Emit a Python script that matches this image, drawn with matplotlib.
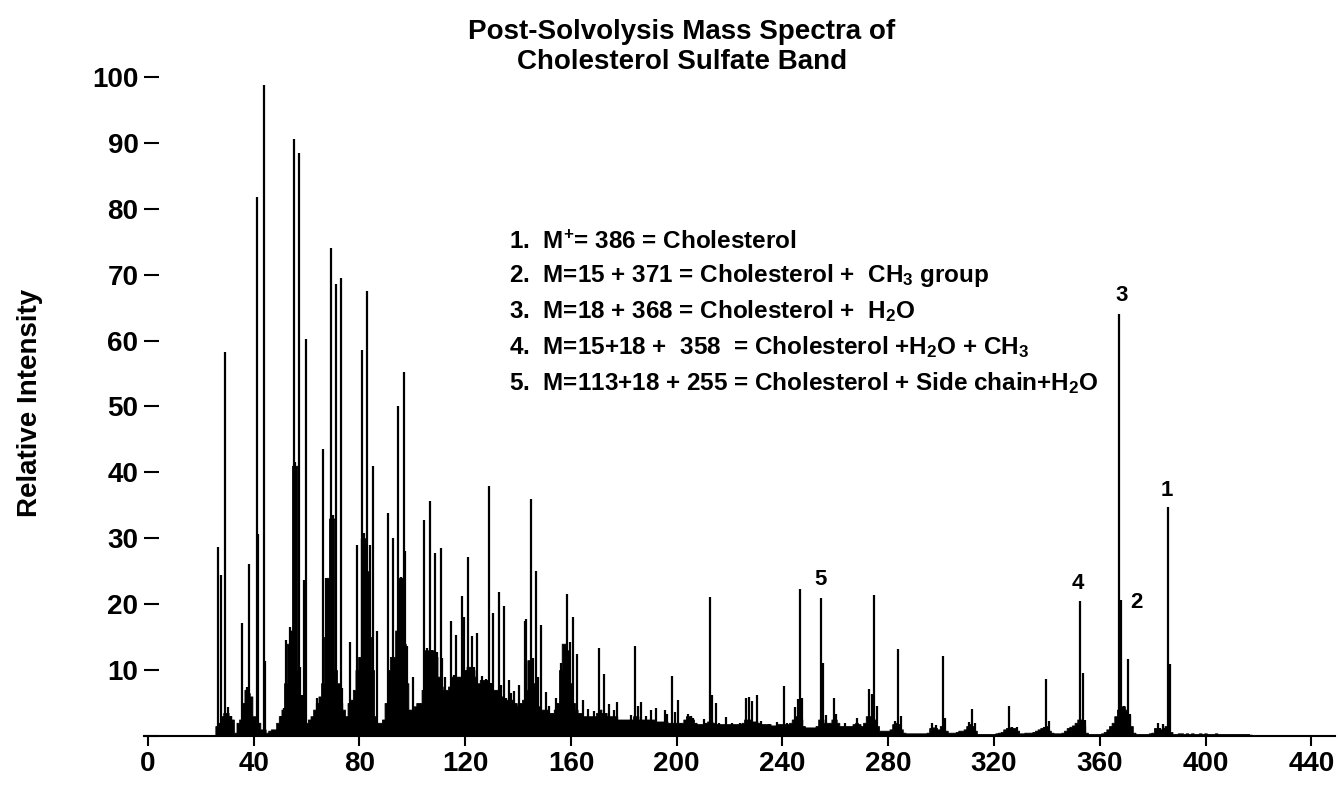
import numpy as np
import matplotlib
matplotlib.use("Agg")
import matplotlib.pyplot as plt

plt.rcParams["font.family"] = ["Liberation Sans", "DejaVu Sans"]
plt.rcParams["font.weight"] = "bold"
plt.rcParams["mathtext.fontset"] = "custom"
plt.rcParams["mathtext.rm"] = "Liberation Sans:bold"
plt.rcParams["mathtext.it"] = "Liberation Sans:bold"
plt.rcParams["mathtext.bf"] = "Liberation Sans:bold"

# background (unresolved) signal, one value per m/z from 25 to 420
env_mz = np.arange(25, 421)
env_int = [
    0, 1.5, 2, 3, 3.5, 3.5, 3, 2.5, 0.5, 2,
    2.5, 5, 7, 6.5, 6, 3, 3, 2, 1, 1,
    0.5, 0.8, 1, 1, 2, 3, 4, 8, 14, 16,
    41, 41, 10, 6, 5, 2, 2.5, 3, 4, 5,
    6, 8, 15, 24, 33, 33, 10, 8, 5, 4,
    3, 5, 5.5, 7, 10, 12, 30, 30, 25, 15,
    10, 3, 2, 2, 2.5, 5, 10, 12, 12, 16,
    24, 24, 14, 8, 4, 4, 4.5, 5, 5, 7,
    13, 13, 13, 13, 12, 9, 7.5, 7, 7, 7.5,
    9, 9, 9, 9, 9, 10, 10.5, 10.5, 10, 9,
    8, 8.5, 8.5, 8.5, 8, 7.5, 7, 7, 6.5, 6,
    5.5, 5.5, 5, 5.5, 5, 4.5, 5, 5.5, 7, 11.5,
    11.5, 8, 6, 4.5, 4, 4, 4, 3.5, 3.5, 4,
    5, 10, 14, 14, 13, 8, 5, 4, 3.5, 3.5,
    3, 3, 3, 3, 3, 3.5, 4, 3.5, 3.5, 3,
    3, 3, 3, 2.5, 2.5, 2.5, 2.5, 2.5, 2.5, 3,
    3, 2.5, 2.5, 2.5, 2.5, 2.5, 2.5, 2.2, 2.2, 2.2,
    2.2, 2.2, 2, 2, 2, 2, 2, 2, 2.5, 3,
    3, 2.5, 2, 1.8, 1.8, 1.8, 2, 2.2, 2.2, 2,
    1.8, 1.8, 1.8, 1.8, 1.8, 1.8, 1.8, 1.8, 1.8, 1.8,
    2, 2.5, 2.5, 2.5, 2.2, 2.2, 2, 1.8, 1.8, 1.8,
    1.8, 1.6, 1.6, 1.8, 1.8, 1.8, 1.8, 1.8, 2, 2.5,
    3, 3, 2.5, 1.5, 1.3, 1.3, 1.3, 1.3, 1.5, 2.5,
    2.5, 2, 2, 2, 2.5, 2.5, 2, 1.5, 1.5, 1.5,
    1.5, 1.5, 1.8, 2, 1.8, 1.5, 2, 3, 3, 3,
    2.5, 1.5, 0.8, 0.8, 0.8, 0.8, 1, 1.8, 2, 1.8,
    1, 0.5, 0.4, 0.4, 0.4, 0.4, 0.4, 0.4, 0.4, 0.4,
    0.5, 1.2, 1.3, 1.2, 1, 1.5, 1.5, 0.8, 0.5, 0.5,
    0.5, 0.6, 0.8, 0.8, 1, 1.5, 1.8, 1.5, 0.8, 0.3,
    0.3, 0.3, 0.3, 0.3, 0.3, 0.3, 0.4, 0.5, 0.6, 1,
    1.2, 1.3, 1.2, 1.2, 0.8, 0.4, 0.4, 0.5, 0.5, 0.5,
    0.6, 0.8, 1, 1.2, 1.3, 1.5, 0.8, 0.5, 0.4, 0.4,
    0.4, 0.5, 0.8, 1.2, 1.4, 1.6, 2, 2.5, 2.5, 1.5,
    0.5, 0.3, 0.3, 0.3, 0.3, 0.3, 0.4, 0.6, 1, 1.5,
    2, 3, 4, 4.5, 4.5, 4, 3, 1.5, 0.5, 0.3,
    0.3, 0.3, 0.3, 0.3, 0.4, 0.5, 1.2, 1, 1, 1.2,
    1.5, 1.5, 0.6, 0.3, 0.3, 0.4, 0.4, 0.3, 0.4, 0.3,
    0.4, 0.3, 0.3, 0.4, 0.3, 0.4, 0.3, 0.3, 0.3, 0.4,
    0.3, 0.3, 0.3, 0.3, 0.3, 0.3, 0.3, 0.3, 0.3, 0.3,
    0.3, 0.3, 0.2, 0.1, 0, 0,
]

# resolved peaks (m/z, relative intensity)
peak_mz = [
    26.6, 27.6, 29.1, 30.3, 31.4, 35.4, 37.5, 38.3, 41.1, 41.8, 43.9, 44.3,
    50.5, 51.5, 52.4, 53.6, 55.2, 55.8, 57.3, 57.6, 58.3, 59.2, 59.6, 63.9,
    66.4, 67.3, 69.1, 69.9, 71.2, 72.9, 73.4, 76.3, 77.5, 78.9,
    81.0, 81.7, 83.0, 84.1, 85.1, 86.5, 90.8, 92.0, 92.8, 94.7, 95.6, 96.7,
    97.1, 98.0, 99.0, 100.2, 104.5, 105.6, 106.5, 107.4, 108.4, 109.4, 110.7,
    111.3, 112.4, 113.5, 114.5, 115.6, 116.6, 117.6, 118.7, 119.4, 120.9,
    121.7, 122.6, 123.5, 124.5, 125.4, 126.4, 127.9, 129.0, 129.8, 130.7,
    131.7, 132.7, 133.6, 134.7, 135.5, 136.4, 137.4, 138.5, 140.4, 142.5,
    143.1, 144.9, 145.5, 146.8, 147.4, 148.5, 149.3, 150.4, 151.8, 154.4,
    156.1, 157.1, 158.6, 159.5, 160.7, 162.4, 164.4, 166.3, 168.6, 170.7,
    172.6, 174.5, 176.4, 177.6, 180.2, 182.7, 184.3, 185.4, 186.5, 188.4,
    190.3, 192.1, 195.4, 196.5, 198.3, 199.5, 200.3, 201.6, 204.3, 205.5,
    206.0, 210.4, 212.5, 213.5, 214.8, 216.0, 218.5, 221.0, 224.0, 226.1,
    227.4, 228.4, 230.4, 231.8, 234.9, 238.1, 240.6, 241.8, 244.9, 245.7,
    246.6, 247.2, 254.4, 255.2, 256.4, 259.5, 260.4, 263.6, 268.3, 272.7,
    273.7, 274.7, 275.6, 282.5, 283.7, 284.7, 296.6, 297.9, 300.7, 301.3,
    310.5, 311.6, 312.9, 325.6, 327.0, 328.7, 338.8, 339.8, 340.7, 352.7,
    353.5, 354.3, 365.3, 366.5, 367.4, 368.2, 369.0, 370.7, 371.5, 381.9,
    382.9, 384.1, 385.8, 386.7,
]
peak_int = [
    28.7, 24.4, 58.2, 4.4, 3, 17.1, 7.5, 26.1, 81.8, 30.6, 98.8, 11.4,
    3, 4.2, 14.6, 16.5, 90.6, 41.6, 88.5, 10.5, 6.2, 23.6, 60.2, 5.8,
    43.5, 24, 74, 33.5, 68.6, 69.5, 7.3, 14.3, 5.5, 29,
    58.5, 30.8, 67.5, 29, 41, 16, 33.8, 9.9, 30, 50, 24.2, 55.3,
    28, 13.6, 4, 9, 32.8, 13.3, 35.6, 13, 27.8, 12.8, 28.6,
    11.8, 9, 6.2, 17.4, 9.3, 15.3, 9, 21.2, 18, 27.2,
    8.5, 15.1, 10.5, 15.6, 6.2, 9.1, 8.6, 38, 8, 18.6,
    6, 21.8, 7.7, 19.7, 5.7, 8.5, 6.5, 6.8, 7.7, 17.5,
    17.7, 35.9, 11.9, 25, 8.9, 16.8, 3.5, 6.6, 4.6, 5.7,
    11, 10, 21.6, 14.2, 18, 12.4, 5.5, 4.1, 3.8, 13.4,
    9.4, 4.9, 4, 5.1, 2.5, 3.2, 13.6, 4.6, 5.1, 3,
    3.9, 4.2, 3.9, 3.3, 9.1, 3.6, 5.4, 2, 3.3, 3,
    2.7, 2.6, 21.1, 6.2, 5, 2, 2.9, 2, 1.9, 5.8,
    5.9, 5.3, 6.2, 2.3, 1.8, 2.1, 7.6, 1.9, 4.4, 5.6,
    22.3, 5.7, 20.9, 11, 3.2, 5.7, 3.4, 1.9, 2.7, 7.1,
    6.3, 21.4, 4.5, 2.3, 13.2, 3.1, 1.9, 1.6, 12.1, 2.8,
    2.1, 4.1, 2, 4.5, 1.3, 1.3, 1.4, 8.6, 2.2, 20.5,
    9.5, 2.4, 1.7, 2.4, 64, 20.6, 4.5, 11.7, 3.4, 1.9,
    1.2, 1.8, 34.7, 10.9,
]

# numbered peaks: label, x, y
mark_labels = ["3", "1", "4", "2", "5"]
mark_x = [368.3, 385.3, 351.7, 373.9, 254.2]
mark_y = [66.8, 37.3, 23.2, 20.2, 23.7]

legend_lines = [
    r"1.  M$^{+}$= 386 = Cholesterol",
    r"2.  M=15 + 371 = Cholesterol +  CH$_{3}$ group",
    r"3.  M=18 + 368 = Cholesterol +  H$_{2}$O",
    r"4.  M=15+18 +  358  = Cholesterol +H$_{2}$O + CH$_{3}$",
    r"5.  M=113+18 + 255 = Cholesterol + Side chain+H$_{2}$O",
]
legend_y = [73.9, 68.9, 63.4, 57.9, 52.5]

x_ticks = list(range(0, 441, 40))
y_ticks = list(range(0, 101, 10))

fig = plt.figure(figsize=(13.38, 7.93), dpi=100)
ax = fig.add_axes([0.1076, 0.0719, 0.8902, 0.831])

ax.fill_between(env_mz, env_int, step="mid", color="black", lw=0.6)
ax.vlines(peak_mz, 0, peak_int, color="black", lw=1.6)

for lab, x, y in zip(mark_labels, mark_x, mark_y):
    ax.text(x, y, lab, ha="center", va="center", fontsize=16, fontweight="bold")

for line, y in zip(legend_lines, legend_y):
    ax.text(136.7, y, line, ha="left", va="baseline", fontsize=17.5, fontweight="bold")

ax.set_xlim(-1.5, 449)
ax.set_ylim(0, 100)
ax.set_xticks(x_ticks)
ax.set_yticks(y_ticks)
ax.set_yticklabels(["" if t == 0 else str(t) for t in y_ticks])
ax.tick_params(axis="x", direction="out", length=7, width=1.5, pad=4, labelsize=20)
ax.tick_params(axis="y", direction="in", length=11, width=1.5, pad=4, labelsize=20)
for lab in ax.get_xticklabels() + ax.get_yticklabels():
    lab.set_fontweight("bold")

for side in ["top", "right", "left"]:
    ax.spines[side].set_visible(False)
ax.spines["bottom"].set_linewidth(1.5)

fig.text(682 / 1338, 1 - 47 / 793, "Post-Solvolysis Mass Spectra of\nCholesterol Sulfate Band",
         ha="center", va="center", fontsize=20, fontweight="bold", linespacing=1.2)
fig.text(30 / 1338, 1 - 403 / 793, "Relative Intensity", rotation=90,
         ha="center", va="center", fontsize=20, fontweight="bold")

fig.savefig("out.png", dpi=100)
